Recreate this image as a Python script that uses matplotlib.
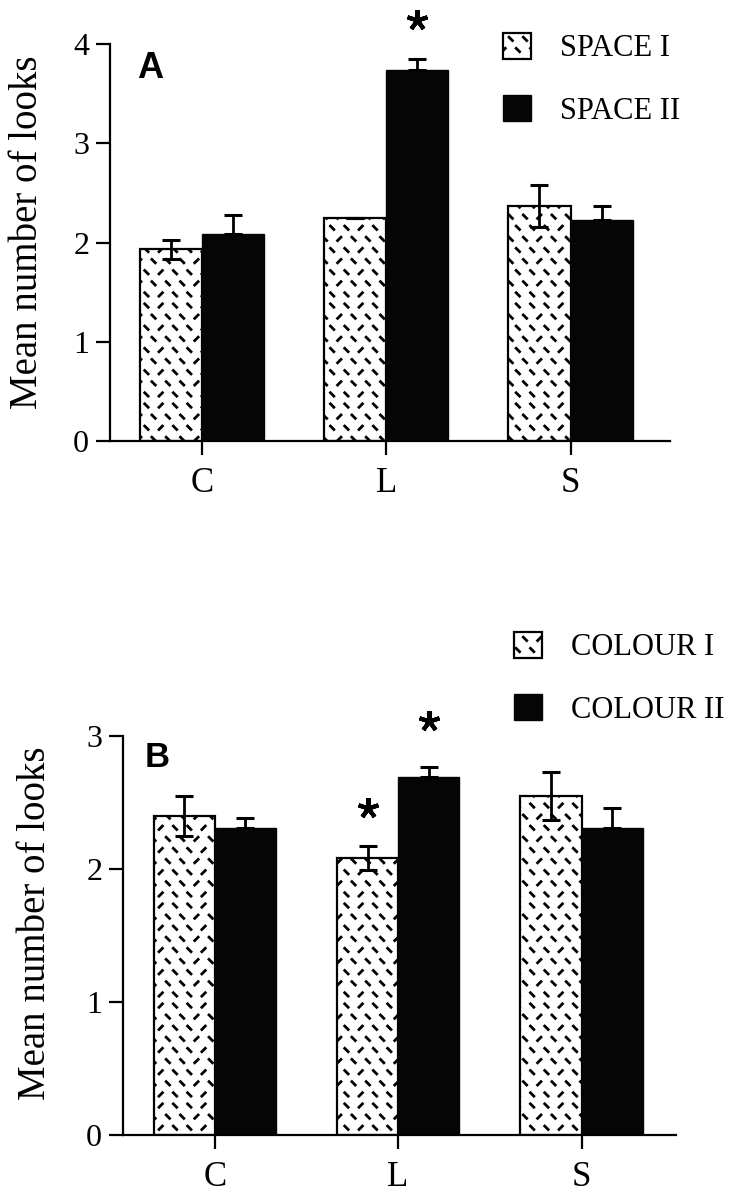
import numpy as np
import matplotlib
matplotlib.use('Agg')
import matplotlib.pyplot as plt
from matplotlib import hatch as mhatch
from matplotlib.path import Path

# data
categories = ['C', 'L', 'S']

space1 = [1.93, 2.25, 2.37]
space1_err = [0.10, 0.0, 0.21]
space2 = [2.09, 3.74, 2.23]
space2_err = [0.19, 0.11, 0.14]

colour1 = [2.40, 2.08, 2.55]
colour1_err = [0.15, 0.09, 0.18]
colour2 = [2.31, 2.69, 2.31]
colour2_err = [0.07, 0.08, 0.15]

# significance stars: (group index, series 0/1, y)
stars_a = [(1, 1, 4.24)]
stars_b = [(1, 0, 2.46), (1, 1, 3.11)]


class DashHatch(mhatch.HatchPatternBase):
    """short broken dashes, reused for the '|' hatch character"""

    def __init__(self, hatch, density):
        self.segs = []
        if '|' in hatch:
            ncol, nrow, d = 7, 9, 0.017
            for j in range(nrow):
                for i in range(ncol):
                    x = (i + 0.25 + 0.5 * (j % 2)) / ncol
                    y = (j + 0.5) / nrow
                    if (i + 2 * j) % 4 == 0:
                        self.segs.append((x - d, y - d, x + d, y + d))
                    else:
                        self.segs.append((x - d, y + d, x + d, y - d))
        self.num_vertices = 2 * len(self.segs)

    def set_vertices_and_codes(self, vertices, codes):
        for k, (x0, y0, x1, y1) in enumerate(self.segs):
            vertices[2 * k] = (x0, y0)
            vertices[2 * k + 1] = (x1, y1)
            codes[2 * k] = Path.MOVETO
            codes[2 * k + 1] = Path.LINETO


mhatch._hatch_types = [DashHatch] + [t for t in mhatch._hatch_types if t is not mhatch.VerticalHatch]

plt.rcParams['font.family'] = ['Liberation Serif', 'DejaVu Serif']
plt.rcParams['hatch.linewidth'] = 2.0
plt.rcParams['axes.linewidth'] = 1.6

W, H = 736, 1199
fig = plt.figure(figsize=(W / 100, H / 100), dpi=100)


def px(x, y):
    return x / W, 1 - y / H


def draw_panel(ax, s1, e1, s2, e2, labels, ymax, stars, width):
    x = np.arange(len(categories))
    b1 = ax.bar(x - width / 2, s1, width, color='white', edgecolor='black',
                linewidth=1.6, hatch='|', label=labels[0], zorder=2)
    b2 = ax.bar(x + width / 2, s2, width, color='#050505', edgecolor='#050505',
                linewidth=1.0, label=labels[1], zorder=2)
    ax.errorbar(x - width / 2, s1, yerr=e1, fmt='none', ecolor='black',
                elinewidth=2, capsize=6.5, capthick=2.2, zorder=3)
    ax.errorbar(x + width / 2, s2, yerr=[np.zeros(len(s2)), e2], fmt='none',
                ecolor='black', elinewidth=2, capsize=6.5, capthick=2.2, zorder=3)
    for gi, si, y in stars:
        xs = gi - width / 2 if si == 0 else gi + width / 2
        ax.plot(xs, y, marker=(5, 2, 0), markersize=15, markeredgewidth=3,
                color='black', clip_on=False, zorder=4)
    ax.set_ylim(0, ymax)
    ax.set_yticks(range(ymax + 1))
    ax.set_xticks(x)
    ax.set_xticklabels(categories, fontsize=25)
    ax.tick_params(axis='y', labelsize=23, length=10, width=1.6, pad=5)
    ax.tick_params(axis='x', length=10, width=1.6, pad=9)
    for side in ['top', 'right']:
        ax.spines[side].set_visible(False)
    return b1, b2


# panel A
ax_a = fig.add_axes([110 / W, 1 - 441 / H, 560 / W, 397 / H])
ax_a.set_xlim(-0.5, 2.54)
ha1, ha2 = draw_panel(ax_a, space1, space1_err, space2, space2_err,
                      ['SPACE I', 'SPACE II'], 4, stars_a, 0.337)
fig.legend(handles=[ha1, ha2], loc='upper left', bbox_to_anchor=px(503, 33),
           frameon=False, fontsize=22, handlelength=0.92, handleheight=0.92,
           handletextpad=0.95, labelspacing=1.05, borderpad=0, borderaxespad=0)
fig.text(*px(137, 78), 'A', fontsize=26, fontweight='bold',
         family='Liberation Sans', ha='left', va='baseline')
fig.text(*px(28, 232), 'Mean number of looks', fontsize=28, rotation=90,
         ha='center', va='center')

# panel B
ax_b = fig.add_axes([123 / W, 1 - 1135 / H, 553 / W, 399 / H])
ax_b.set_xlim(-0.5, 2.515)
hb1, hb2 = draw_panel(ax_b, colour1, colour1_err, colour2, colour2_err,
                      ['COLOUR I', 'COLOUR II'], 3, stars_b, 0.333)
fig.legend(handles=[hb1, hb2], loc='upper left', bbox_to_anchor=px(514, 632),
           frameon=False, fontsize=22, handlelength=0.92, handleheight=0.92,
           handletextpad=0.95, labelspacing=1.05, borderpad=0, borderaxespad=0)
fig.text(*px(145, 767), 'B', fontsize=25, fontweight='bold',
         family='Liberation Sans', ha='left', va='baseline')
fig.text(*px(36, 923), 'Mean number of looks', fontsize=28, rotation=90,
         ha='center', va='center')

fig.savefig('out.png', dpi=100)
